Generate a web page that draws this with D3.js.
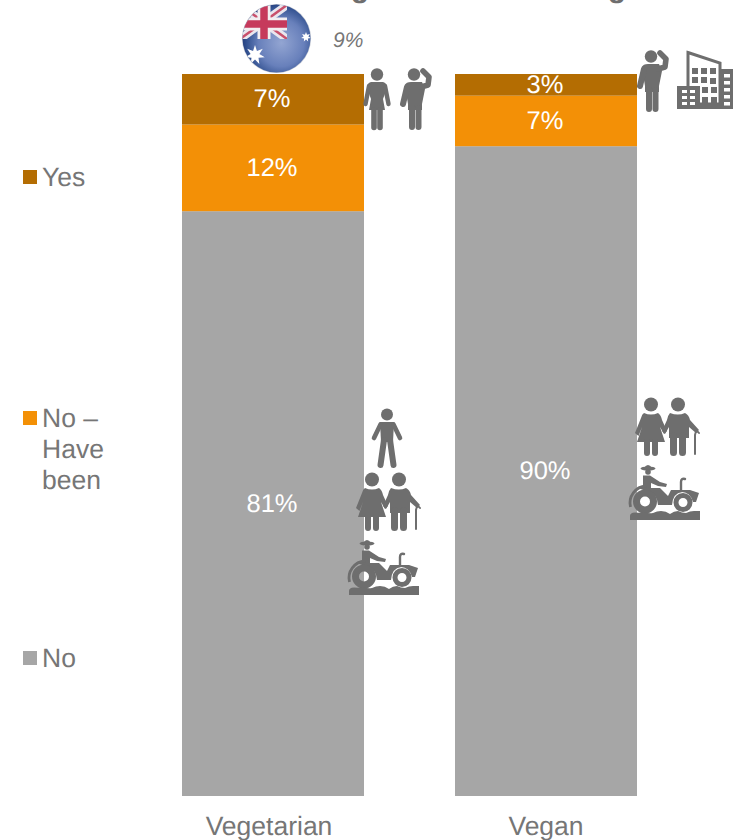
<!DOCTYPE html>
<html>
<head>
<meta charset="utf-8">
<script src="https://cdnjs.cloudflare.com/ajax/libs/d3/7.8.5/d3.min.js"></script>
<style>
html,body{margin:0;padding:0;background:#fff;overflow:hidden}
svg{display:block}
text{font-family:"Liberation Sans",Arial,sans-serif;text-rendering:geometricPrecision}
</style>
</head>
<body>
<svg id="chart" width="733" height="840"></svg>
<script>
// Diet groups and the answer shares, bottom of the stack first
const categories = ["Vegetarian", "Vegan"];
const answers = ["No", "No – Have been", "Yes"];
const noValues = [81, 90];
const haveBeenValues = [12, 7];
const yesValues = [7, 3];
const australiaShare = "9%";
const answerColors = ["#a6a6a6", "#f39006", "#b46d02"];
const legendLines = [["Yes"], ["No –", "Have", "been"], ["No"]];
const legendOrder = [2, 1, 0];

const TEXT = "#767676", ICON = "#6e6e6e";
const svg = d3.select("#chart");

const rows = categories.map((c, i) => ({
  category: c, "No": noValues[i], "No – Have been": haveBeenValues[i], "Yes": yesValues[i]
}));
const stacked = d3.stack().keys(answers)(rows);

const x = d3.scaleBand().domain(categories).range([136.5, 682.5]).paddingInner(1 / 3).paddingOuter(1 / 6);
const y = d3.scaleLinear().domain([0, 100]).range([796, 74]);
const color = d3.scaleOrdinal().domain(answers).range(answerColors);

// Bars and their value labels
const layers = svg.append("g").selectAll("g").data(stacked).join("g").attr("fill", d => color(d.key));
layers.selectAll("rect").data(d => d.map((v, i) => ({v, c: categories[i]}))).join("rect")
  .attr("x", d => x(d.c)).attr("width", x.bandwidth())
  .attr("y", d => y(d.v[1])).attr("height", d => y(d.v[0]) - y(d.v[1]));
layers.selectAll("text").data(d => d.map((v, i) => ({v, c: categories[i]}))).join("text")
  .attr("x", d => x(d.c) + x.bandwidth() / 2 - 1)
  .attr("y", d => (y(d.v[0]) + y(d.v[1])) / 2 + 8)
  .attr("text-anchor", "middle").attr("font-size", 25.5).attr("fill", "#fff")
  .text(d => (d.v[1] - d.v[0]) + "%");

// Category axis without a line or ticks
const axis = svg.append("g").attr("transform", "translate(0,796)")
  .call(d3.axisBottom(x).tickSize(0).tickPadding(20));
axis.select(".domain").remove();
axis.selectAll("text").attr("font-size", 26.5).attr("fill", TEXT)
  .attr("font-family", '"Liberation Sans",Arial,sans-serif')
  .attr("dx", (d, i) => i ? 0 : -4);

// Legend
const legendY = [177, 418, 658];
legendOrder.forEach((k, i) => {
  const g = svg.append("g");
  g.append("rect").attr("x", 23).attr("y", legendY[i] - 7).attr("width", 14).attr("height", 14).attr("fill", answerColors[k]);
  legendLines[i].forEach((line, j) => {
    g.append("text").attr("x", 42).attr("y", legendY[i] + 9 + j * 31)
      .attr("font-size", 26.5).attr("fill", TEXT).text(line);
  });
});

// Descenders of the heading, which runs off the top edge
svg.append("g").attr("font-size", 30).attr("font-weight", "bold").attr("fill", ICON).attr("text-anchor", "middle")
  .selectAll("text").data(["g", "g"]).join("text")
  .attr("x", (d, i) => i ? 617 : 360).attr("y", -3.5).text(d => d);

// Australian flag badge with the national share beside it
const defs = svg.append("defs");
const globe = defs.append("radialGradient").attr("id", "globe")
  .attr("cx", "0.55").attr("cy", "0.55").attr("r", "0.55");
[[0, "#93a5d2"], [0.55, "#6880bb"], [0.85, "#31508f"], [1, "#1d3474"]].forEach(s =>
  globe.append("stop").attr("offset", s[0]).attr("stop-color", s[1]));
defs.append("clipPath").attr("id", "disc").append("circle").attr("cx", 276.5).attr("cy", 38.5).attr("r", 34);
defs.append("clipPath").attr("id", "canton").append("rect").attr("x", 240).attr("y", 5).attr("width", 47).attr("height", 34);

const flag = svg.append("g");
flag.append("circle").attr("cx", 276.5).attr("cy", 38.5).attr("r", 34.6).attr("fill", "#c9cdd6");
const disc = flag.append("g").attr("clip-path", "url(#disc)");
disc.append("rect").attr("x", 240).attr("y", 0).attr("width", 75).attr("height", 78).attr("fill", "url(#globe)");
const jack = disc.append("g").attr("clip-path", "url(#canton)");
jack.append("path").attr("d", "M240,5L287,39M287,5L240,39").attr("stroke", "#e9e6ee").attr("stroke-width", 8);
jack.append("path").attr("d", "M240,5L287,39M287,5L240,39").attr("stroke", "#c8506c").attr("stroke-width", 2.5);
jack.append("path").attr("d", "M264,5V39M240,24H287").attr("stroke", "#f2eef1").attr("stroke-width", 13);
jack.append("path").attr("d", "M264,5V39M240,24H287").attr("stroke", "#c63a5c").attr("stroke-width", 7.5);
const star = (cx, cy, R, r, n) => {
  const pts = d3.range(n * 2).map(i => [i * Math.PI / n, i % 2 ? r : R]);
  disc.append("path").attr("transform", `translate(${cx},${cy})`)
    .attr("d", d3.lineRadial().curve(d3.curveLinearClosed)(pts)).attr("fill", "#fff");
};
star(255, 55, 10, 4.5, 7);
star(306, 37, 5, 2.4, 7);
svg.append("text").attr("x", 333).attr("y", 47).attr("font-size", 21).attr("font-style", "italic")
  .attr("fill", TEXT).text(australiaShare);

// Demographic pictograms: each draws itself from a local origin
const limbs = (g, d, w) => g.append("path").attr("d", d).attr("fill", "none").attr("stroke", ICON)
  .attr("stroke-width", w).attr("stroke-linecap", "round").attr("stroke-linejoin", "round");
const solid = (g, d) => g.append("path").attr("d", d).attr("fill", ICON);
const head = (g, cx, cy, r) => g.append("circle").attr("cx", cx).attr("cy", cy).attr("r", r).attr("fill", ICON);

function woman(g) {
  head(g, 14, 6.5, 6.2);
  solid(g, "M8,14H20Q24,15 24,20L20,31L22,42H6L8,31L4,20Q4,15 8,14Z");
  limbs(g, "M6,18L2.5,36M22,18L25.5,36", 4.4);
  limbs(g, "M11,42V59.5M17,42V59.5", 5.6);
}
function thinkingMan(g) {
  head(g, 14, 6.5, 6.2);
  solid(g, "M5,17Q6,14 11,14H22L25,21L22,36V42H8V36L6,24Z");
  limbs(g, "M7,19L3,36", 6);
  limbs(g, "M21,19L28,17L29,9L23,3", 5.6);
  limbs(g, "M12,40V59M18.5,40V59", 6);
}
function standing(g) {
  head(g, 15, 6.5, 6);
  solid(g, "M8,14H22L21,34H9Z");
  limbs(g, "M8.5,16.5L2,30M21.5,16.5L28,30", 4.6);
  limbs(g, "M12,32L8.5,57M18,32L21.5,57", 6);
}
function couple(g) {
  head(g, 15, 6.5, 7);
  solid(g, "M8,15Q15,18 22,15Q25,17 26,22L31,33L28,36L24,29L29,44H1L6,29L2.5,38L-1,35L5,20Q6,16 8,15Z");
  limbs(g, "M11,44V55M19,44V55", 6);
  head(g, 42, 6.5, 7);
  solid(g, "M34,15Q42,18 49,15Q53,17 54,22L63,32L60,35L53,29V40H33V29L29,36L26,33L31,22Q32,17 34,15Z");
  limbs(g, "M37.5,38V54.5M46.5,38V54.5", 7);
  limbs(g, "M59,37Q60,31 63,35M59,37V56", 2);
}
function tractor(g) {
  g.append("ellipse").attr("cx", 18).attr("cy", 5.5).attr("rx", 7.5).attr("ry", 2).attr("fill", ICON);
  g.append("path").attr("d", "M14,5Q18,-1 22,5Z").attr("fill", ICON);
  head(g, 18, 9, 2.8);
  solid(g, "M13,12.5H20L30,19L37,21L36,24L28,23L21,20V26H13Z");
  solid(g, "M8,25L30,25L38,33L41,27H60L69,30L66,39H63Q60,29 52,29Q43,30 42,42H28Q27,30 16,28Z");
  limbs(g, "M51,28V19Q51,15 55,16", 2.4);
  g.append("path").attr("d", "M0.5,44A17,17 0 0 1 16,23").attr("fill", "none").attr("stroke", ICON).attr("stroke-width", 2.8);
  g.append("circle").attr("cx", 15).attr("cy", 38.5).attr("r", 8.5).attr("fill", "none").attr("stroke", ICON).attr("stroke-width", 7);
  g.append("circle").attr("cx", 53).attr("cy", 39.5).attr("r", 7).attr("fill", "none").attr("stroke", ICON).attr("stroke-width", 5);
  solid(g, "M0,57V53Q0,49.5 5,49.5Q11,50 15,49Q19,51 23,50Q27,48 31,48Q36,48 40,51Q44,48 48,48Q52,50 56,50Q60,48 64,48H70V57Z");
}
function office(g) {
  g.append("path").attr("d", "M11,1.5L43,12V53H11Z").attr("fill", "#fff").attr("stroke", ICON).attr("stroke-width", 3);
  solid(g, "M0,35H23V58H0ZM43,18H56V58H43Z");
  solid(g, "M23,53H45V58H23Z");
  const cell = (px, py, w, h, fill) => g.append("rect").attr("x", px).attr("y", py).attr("width", w).attr("height", h).attr("fill", fill);
  [[15, 17], [24, 17], [33, 17], [15, 26], [24, 26], [33, 27], [25, 36], [34, 36], [25, 46], [34, 46]]
    .forEach(p => cell(p[0], p[1], 6, 6, ICON));
  [[5, 39], [13, 39], [5, 45], [13, 45], [5, 51], [13, 51]].forEach(p => cell(p[0], p[1], 5, 3, "#fff"));
  [[47, 23], [47, 30], [47, 37], [47, 44], [47, 51]].forEach(p => cell(p[0], p[1], 6, 3.5, "#fff"));
}

const iconPlacements = [
  [woman, 363, 68], [thinkingMan, 400, 68], [thinkingMan, 637, 50], [office, 677, 51],
  [standing, 372, 408], [couple, 357, 473], [tractor, 349, 538],
  [couple, 636, 398], [tractor, 630, 463]
];
iconPlacements.forEach(([draw, px, py]) => draw(svg.append("g").attr("transform", `translate(${px},${py})`)));
</script>
</body>
</html>
